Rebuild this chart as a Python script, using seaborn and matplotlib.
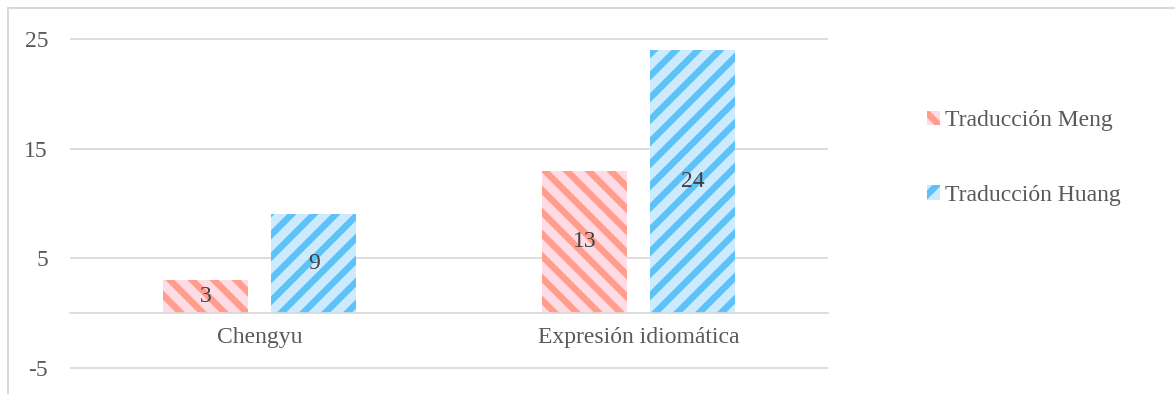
import matplotlib
matplotlib.use("Agg")
import matplotlib.pyplot as plt
from matplotlib.lines import Line2D
import seaborn as sns
import pandas as pd

categories = ["Chengyu", "Expresión idiomática"]
series_names = ["Traducción Meng", "Traducción Huang"]
meng_values = [3, 13]
huang_values = [9, 24]
y_ticks = [-5, 5, 15, 25]

face_colors = ["#FDDCE6", "#CDEBFF"]
hatch_colors = ["#FF9E8E", "#5CC2FA"]
hatches = ["\\\\", "//"]

DPI = 132
W, H = 1175, 394


def pt(px):
    return px * 72.0 / DPI


sns.set_theme(style="white")
plt.rcParams["font.family"] = ["Liberation Serif", "DejaVu Serif"]
plt.rcParams["axes.unicode_minus"] = False
plt.rcParams["hatch.linewidth"] = pt(6.5)

FS = pt(23.6)

df = pd.DataFrame({
    "cat": categories * 2,
    "serie": [series_names[0]] * 2 + [series_names[1]] * 2,
    "value": meng_values + huang_values,
})

fig = plt.figure(figsize=(W / DPI, H / DPI), dpi=DPI)
ax = fig.add_axes([70 / W, 25 / H, 758 / W, 331 / H])

sns.barplot(data=df, x="cat", y="value", hue="serie", hue_order=series_names,
            palette=face_colors, saturation=1, width=0.572, gap=0.217,
            errorbar=None, legend=False, ax=ax)

for i, cont in enumerate(ax.containers):
    for p in cont.patches:
        p.set_facecolor(face_colors[i])
        p.set_edgecolor(hatch_colors[i])
        p.set_linewidth(0)
        p.set_hatch(hatches[i])
        if hasattr(p, "set_hatch_linewidth"):
            p.set_hatch_linewidth(pt(6.5))
    ax.bar_label(cont, labels=[f"{v:g}" for v in cont.datavalues], label_type="center",
                 fontsize=FS, color="#404040")

ax.set_ylim(-5.05, 25.05)
ax.set_xlim(-0.5, 1.5)
ax.set_yticks(y_ticks)
ax.yaxis.grid(True, color="#D9D9D9", linewidth=pt(1.7))
ax.set_axisbelow(True)
for s in ["top", "right", "left"]:
    ax.spines[s].set_visible(False)
ax.spines["bottom"].set_position(("data", 0))
ax.spines["bottom"].set_color("#D9D9D9")
ax.spines["bottom"].set_linewidth(pt(1.7))
ax.tick_params(axis="y", length=0, pad=pt(22), labelsize=FS, labelcolor="#595959")
ax.tick_params(axis="x", length=0, pad=pt(14), labelsize=FS, labelcolor="#595959")
ax.set_xlabel("")
ax.set_ylabel("")

handles = [ax.containers[0].patches[0], ax.containers[1].patches[0]]
leg = fig.legend(handles, series_names, loc="upper left",
                 bbox_to_anchor=(927 / W, 1 - 110 / H), frameon=False,
                 fontsize=FS, labelcolor="#595959", handlelength=0.55,
                 handleheight=0.55, handletextpad=0.2, labelspacing=2.28,
                 borderpad=0, borderaxespad=0)

border_color = "#D9D9D9"
fig.add_artist(Line2D([8 / W, 1.0], [1 - 8 / H, 1 - 8 / H],
                      transform=fig.transFigure, color=border_color, linewidth=pt(2)))
fig.add_artist(Line2D([8 / W, 8 / W], [0.0, 1 - 8 / H],
                      transform=fig.transFigure, color=border_color, linewidth=pt(2)))

fig.savefig("out.png", dpi=DPI)
